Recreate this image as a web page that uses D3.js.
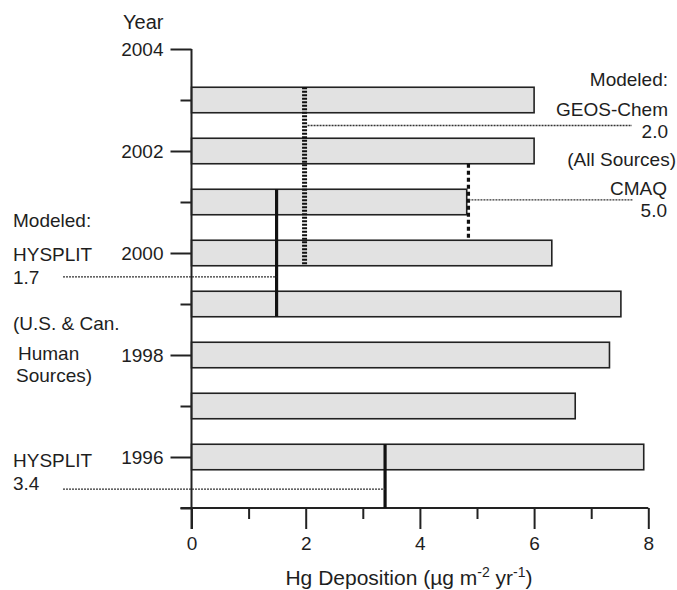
<!DOCTYPE html>
<html>
<head>
<meta charset="utf-8">
<script src="https://cdn.jsdelivr.net/npm/d3@7"></script>
<style>
  body { margin: 0; background: #fff; }
  svg { display: block; font-family: "Liberation Sans", Arial, sans-serif; }
  text { fill: #1e1e1e; }
</style>
</head>
<body>
<svg id="chart" width="677" height="590"></svg>
<script>

/*************************** Data ***************************/

var years = [2003, 2002, 2001, 2000, 1999, 1998, 1997, 1996];
var deposition = [6.0, 6.0, 4.82, 6.31, 7.52, 7.32, 6.72, 7.92];

var yearTicks = [1996, 1998, 2000, 2002, 2004];
var yearMinorTicks = [1995, 1997, 1999, 2001, 2003];
var depTicks = [0, 2, 4, 6, 8];
var depMinorTicks = [1, 3, 5, 7];

// modeled deposition lines: value drawn, label shown, year span covered
var modelNames = ["GEOS-Chem", "CMAQ", "HYSPLIT", "HYSPLIT"];
var modelValues = [1.98, 4.85, 1.49, 3.39];
var modelLabels = ["2.0", "5.0", "1.7", "3.4"];
var modelYearFrom = [2003.25, 2001.75, 2001.25, 1996.25];
var modelYearTo = [1999.75, 2000.25, 1998.75, 1995];

/*************************** Scales ***************************/

var svg = d3.select("#chart");
var ink = "#222";
var fontSize = "19px";

var x = d3.scaleLinear().domain([0, 8]).range([191.5, 648.3]);
var y = d3.scaleLinear().domain([1995, 2004]).range([508, 49]);
var barHalf = 0.25;

/*************************** Bars ***************************/

svg.append("g").selectAll("rect")
  .data(years)
  .enter().append("rect")
  .attr("x", x(0))
  .attr("y", function(d){ return y(d + barHalf); })
  .attr("width", function(d, i){ return x(deposition[i]) - x(0); })
  .attr("height", function(d){ return y(d - barHalf) - y(d + barHalf); })
  .style("fill", "#e2e2e2")
  .style("stroke", ink)
  .style("stroke-width", 1.6);

/*************************** Axes ***************************/

var yAxis = d3.axisLeft(y).tickValues(yearTicks).tickSize(21).tickPadding(7).tickFormat(d3.format("d"));
var yMinor = d3.axisLeft(y).tickValues(yearMinorTicks).tickSize(11).tickFormat("");
var xAxis = d3.axisBottom(x).tickValues(depTicks).tickSize(21).tickPadding(8).tickFormat(d3.format("d"));
var xMinor = d3.axisBottom(x).tickValues(depMinorTicks).tickSize(11).tickFormat("");

function styleAxis(g){
  g.selectAll(".domain").remove();
  g.selectAll("line").style("stroke", ink).style("stroke-width", 2);
  g.selectAll("text").style("font-size", fontSize).style("fill", "#1e1e1e")
    .style("font-family", "'Liberation Sans', Arial, sans-serif");
}

svg.append("g").attr("transform", "translate(" + x(0) + ",0)").call(yAxis).call(styleAxis);
svg.append("g").attr("transform", "translate(" + x(0) + ",0)").call(yMinor).call(styleAxis);
svg.append("g").attr("transform", "translate(0," + y(1995) + ")").call(xAxis).call(styleAxis);
svg.append("g").attr("transform", "translate(0," + y(1995) + ")").call(xMinor).call(styleAxis);

// axis lines
svg.append("line")
  .attr("x1", x(0)).attr("x2", x(0)).attr("y1", y(2004)).attr("y2", y(1995) + 21)
  .style("stroke", ink).style("stroke-width", 2);
svg.append("line")
  .attr("x1", x(0) - 11).attr("x2", x(8)).attr("y1", y(1995)).attr("y2", y(1995))
  .style("stroke", ink).style("stroke-width", 2);

svg.append("text")
  .attr("x", 123).attr("y", 29)
  .style("font-size", "20px")
  .text("Year");

var xTitle = svg.append("text")
  .attr("x", 409).attr("y", 585)
  .attr("text-anchor", "middle")
  .style("font-size", "21px");
xTitle.append("tspan").text("Hg Deposition (\u00b5g m");
xTitle.append("tspan").attr("dy", -8).style("font-size", "14px").text("-2");
xTitle.append("tspan").attr("dy", 8).text(" yr");
xTitle.append("tspan").attr("dy", -8).style("font-size", "14px").text("-1");
xTitle.append("tspan").attr("dy", 8).text(")");

/*************************** Model lines ***************************/

var modelStyles = [
  { width: 5, dash: "2,1.5" },
  { width: 3.2, dash: "4,3" },
  { width: 3.2, dash: null },
  { width: 3.2, dash: null }
];

svg.append("g").selectAll("line")
  .data(modelValues)
  .enter().append("line")
  .attr("x1", function(d){ return x(d); })
  .attr("x2", function(d){ return x(d); })
  .attr("y1", function(d, i){ return y(modelYearFrom[i]); })
  .attr("y2", function(d, i){ return y(modelYearTo[i]); })
  .style("stroke", "#111")
  .style("stroke-width", function(d, i){ return modelStyles[i].width; })
  .style("stroke-dasharray", function(d, i){ return modelStyles[i].dash; });

// dotted leader lines to the labels
var leaders = [
  { x1: x(modelValues[0]) + 3, x2: 632, yr: 2002.5 },
  { x1: x(modelValues[1]), x2: 633, yr: 2001.04 },
  { x1: 63, x2: x(modelValues[2]), yr: 1999.53 },
  { x1: 63, x2: x(modelValues[3]), yr: 1995.37 }
];

svg.append("g").selectAll("line")
  .data(leaders)
  .enter().append("line")
  .attr("x1", function(d){ return d.x1; })
  .attr("x2", function(d){ return d.x2; })
  .attr("y1", function(d){ return y(d.yr); })
  .attr("y2", function(d){ return y(d.yr); })
  .style("stroke", "#333")
  .style("stroke-width", 1.3)
  .style("stroke-dasharray", "2,1");

/*************************** Labels ***************************/

var rightLabels = [
  { t: "Modeled:", x: 668, y: 86 },
  { t: modelNames[0], x: 668, y: 116 },
  { t: modelLabels[0], x: 668, y: 138 },
  { t: "(All Sources)", x: 676, y: 166 },
  { t: modelNames[1], x: 667, y: 195 },
  { t: modelLabels[1], x: 667, y: 217 }
];

svg.append("g").selectAll("text")
  .data(rightLabels)
  .enter().append("text")
  .attr("x", function(d){ return d.x; })
  .attr("y", function(d){ return d.y; })
  .attr("text-anchor", "end")
  .style("font-size", fontSize)
  .text(function(d){ return d.t; });

var leftLabels = [
  { t: "Modeled:", x: 13, y: 227 },
  { t: modelNames[2], x: 13, y: 261 },
  { t: modelLabels[2], x: 13, y: 284 },
  { t: "(U.S. & Can.", x: 13, y: 330 },
  { t: "Human", x: 18, y: 360 },
  { t: "Sources)", x: 16, y: 382 },
  { t: modelNames[3], x: 13, y: 467 },
  { t: modelLabels[3], x: 13, y: 490 }
];

svg.append("g").selectAll("text")
  .data(leftLabels)
  .enter().append("text")
  .attr("x", function(d){ return d.x; })
  .attr("y", function(d){ return d.y; })
  .style("font-size", fontSize)
  .text(function(d){ return d.t; });

</script>
</body>
</html>
